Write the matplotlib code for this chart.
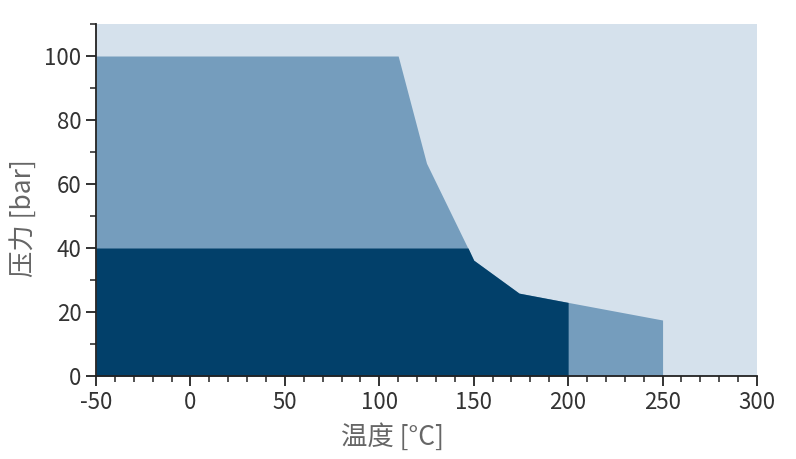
import matplotlib.pyplot as plt
import numpy as np

# operating envelope (temperature in C, pressure in bar)
outer_temp = [-50, 110, 125, 150, 174, 200, 250]
outer_pres = [100, 100, 66.5, 36.2, 25.9, 23.0, 17.5]

# inner (dark) region
inner_temp = [-50, 147, 150, 174, 200]
inner_pres = [40, 40, 36.2, 25.9, 23.0]

x_ticks = [-50, 0, 50, 100, 150, 200, 250, 300]
y_ticks = [0, 20, 40, 60, 80, 100]

plt.rcParams['font.family'] = ['Noto Sans CJK SC', 'DejaVu Sans']
plt.rcParams['axes.unicode_minus'] = False

fig = plt.figure(figsize=(7.96, 4.59), dpi=100)
ax = fig.add_axes([0.1206, 0.1808, 0.8304, 0.7669])
ax.set_facecolor('#d5e1ec')

ax.fill_between(outer_temp, 0, outer_pres, color='#759dbd', linewidth=0)
ax.fill_between(inner_temp, 0, inner_pres, color='#02406a', linewidth=0)

ax.set_xlim(-50, 300)
ax.set_ylim(0, 110)
ax.set_xticks(x_ticks)
ax.set_yticks(y_ticks)
ax.set_xticks(np.arange(-50, 301, 10), minor=True)
ax.set_yticks(np.arange(0, 111, 10), minor=True)

for s in ['top', 'right']:
    ax.spines[s].set_visible(False)
for s in ['left', 'bottom']:
    ax.spines[s].set_linewidth(1.3)
    ax.spines[s].set_color('#222222')

ax.tick_params(which='major', direction='out', length=7, width=1.3, color='#222222',
               labelsize=16, labelcolor='#333333')
ax.tick_params(which='minor', direction='out', length=4, width=1.1, color='#222222')
for lbl in ax.get_xticklabels() + ax.get_yticklabels():
    lbl.set_fontweight('light')

ax.set_xlabel('温度 [°C]', fontsize=19, color='#666666', fontweight='light')
ax.set_ylabel('压力 [bar]', fontsize=19, color='#666666', fontweight='light')
ax.xaxis.set_label_coords(0.448, -0.135)
ax.yaxis.set_label_coords(-0.089, 0.45)

fig.savefig('out.png', dpi=100)
